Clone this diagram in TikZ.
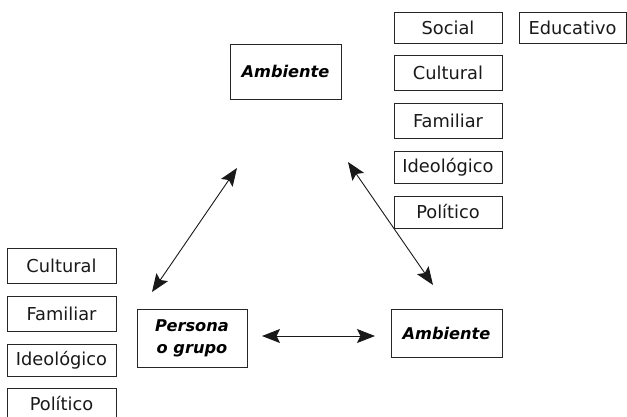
\documentclass[tikz,border=0pt]{standalone}
\usepackage{fontspec}
\setmainfont{DejaVu Sans}
\usetikzlibrary{arrows.meta}
\tikzset{
  item/.style={draw=black!85, line width=0.9pt, inner sep=0pt, font=\fontsize{17.8}{20}\selectfont, text=black!90},
  main/.style={draw=black!85, line width=0.9pt, inner sep=0pt, align=center, font=\fontsize{16.2}{22}\selectfont\bfseries\itshape},
  link/.style={line width=0.9pt, black!90, {Stealth[length=18pt,width=14pt,inset=3.5pt]}-{Stealth[length=18pt,width=14pt,inset=3.5pt]}}
}
\begin{document}
\begin{tikzpicture}[x=1pt,y=-1pt]
\useasboundingbox (0,0) rectangle (627,416);
\clip (0,0) rectangle (627,416);
% right column
\node[item, minimum width=108pt, minimum height=31pt] (rs) at (448,27.5) {Social};
\node[item, minimum width=107pt, minimum height=31pt] (re) at (572.5,27.5) {Educativo};
\node[item, minimum width=108pt, minimum height=35pt] (rc) at (448,72.5) {Cultural};
\node[item, minimum width=108pt, minimum height=35pt] (rf) at (448,120.5) {Familiar};
\node[item, minimum width=108pt, minimum height=32pt] (ri) at (448,167) {Ideológico};
\node[item, minimum width=108pt, minimum height=32pt] (rp) at (448,212) {Político};
% left column
\node[item, minimum width=109pt, minimum height=35pt] (lc) at (61.5,265.5) {Cultural};
\node[item, minimum width=109pt, minimum height=35pt] (lf) at (61.5,313.5) {Familiar};
\node[item, minimum width=109pt, minimum height=32pt] (li) at (61.5,360) {Ideológico};
\node[item, minimum width=109pt, minimum height=32pt] (lp) at (61.5,404) {Político};
% main boxes
\node[main, minimum width=111pt, minimum height=55pt] (at) at (285.5,71.5) {Ambiente};
\node[main, minimum width=110pt, minimum height=58pt] (pg) at (192,338) {Persona\\o grupo};
\node[main, minimum width=111pt, minimum height=48pt] (ab) at (446.5,333) {Ambiente};
% arrow ends
\coordinate (a1s) at (237,168);
\coordinate (a1e) at (152,292);
\coordinate (a2s) at (348,162);
\coordinate (a2e) at (433,285);
\coordinate (a3s) at (262,336);
\coordinate (a3e) at (375,336);
\draw[link] (a1s) -- (a1e);
\draw[link] (a2s) -- (a2e);
\draw[link] (a3s) -- (a3e);
\end{tikzpicture}
\end{document}
